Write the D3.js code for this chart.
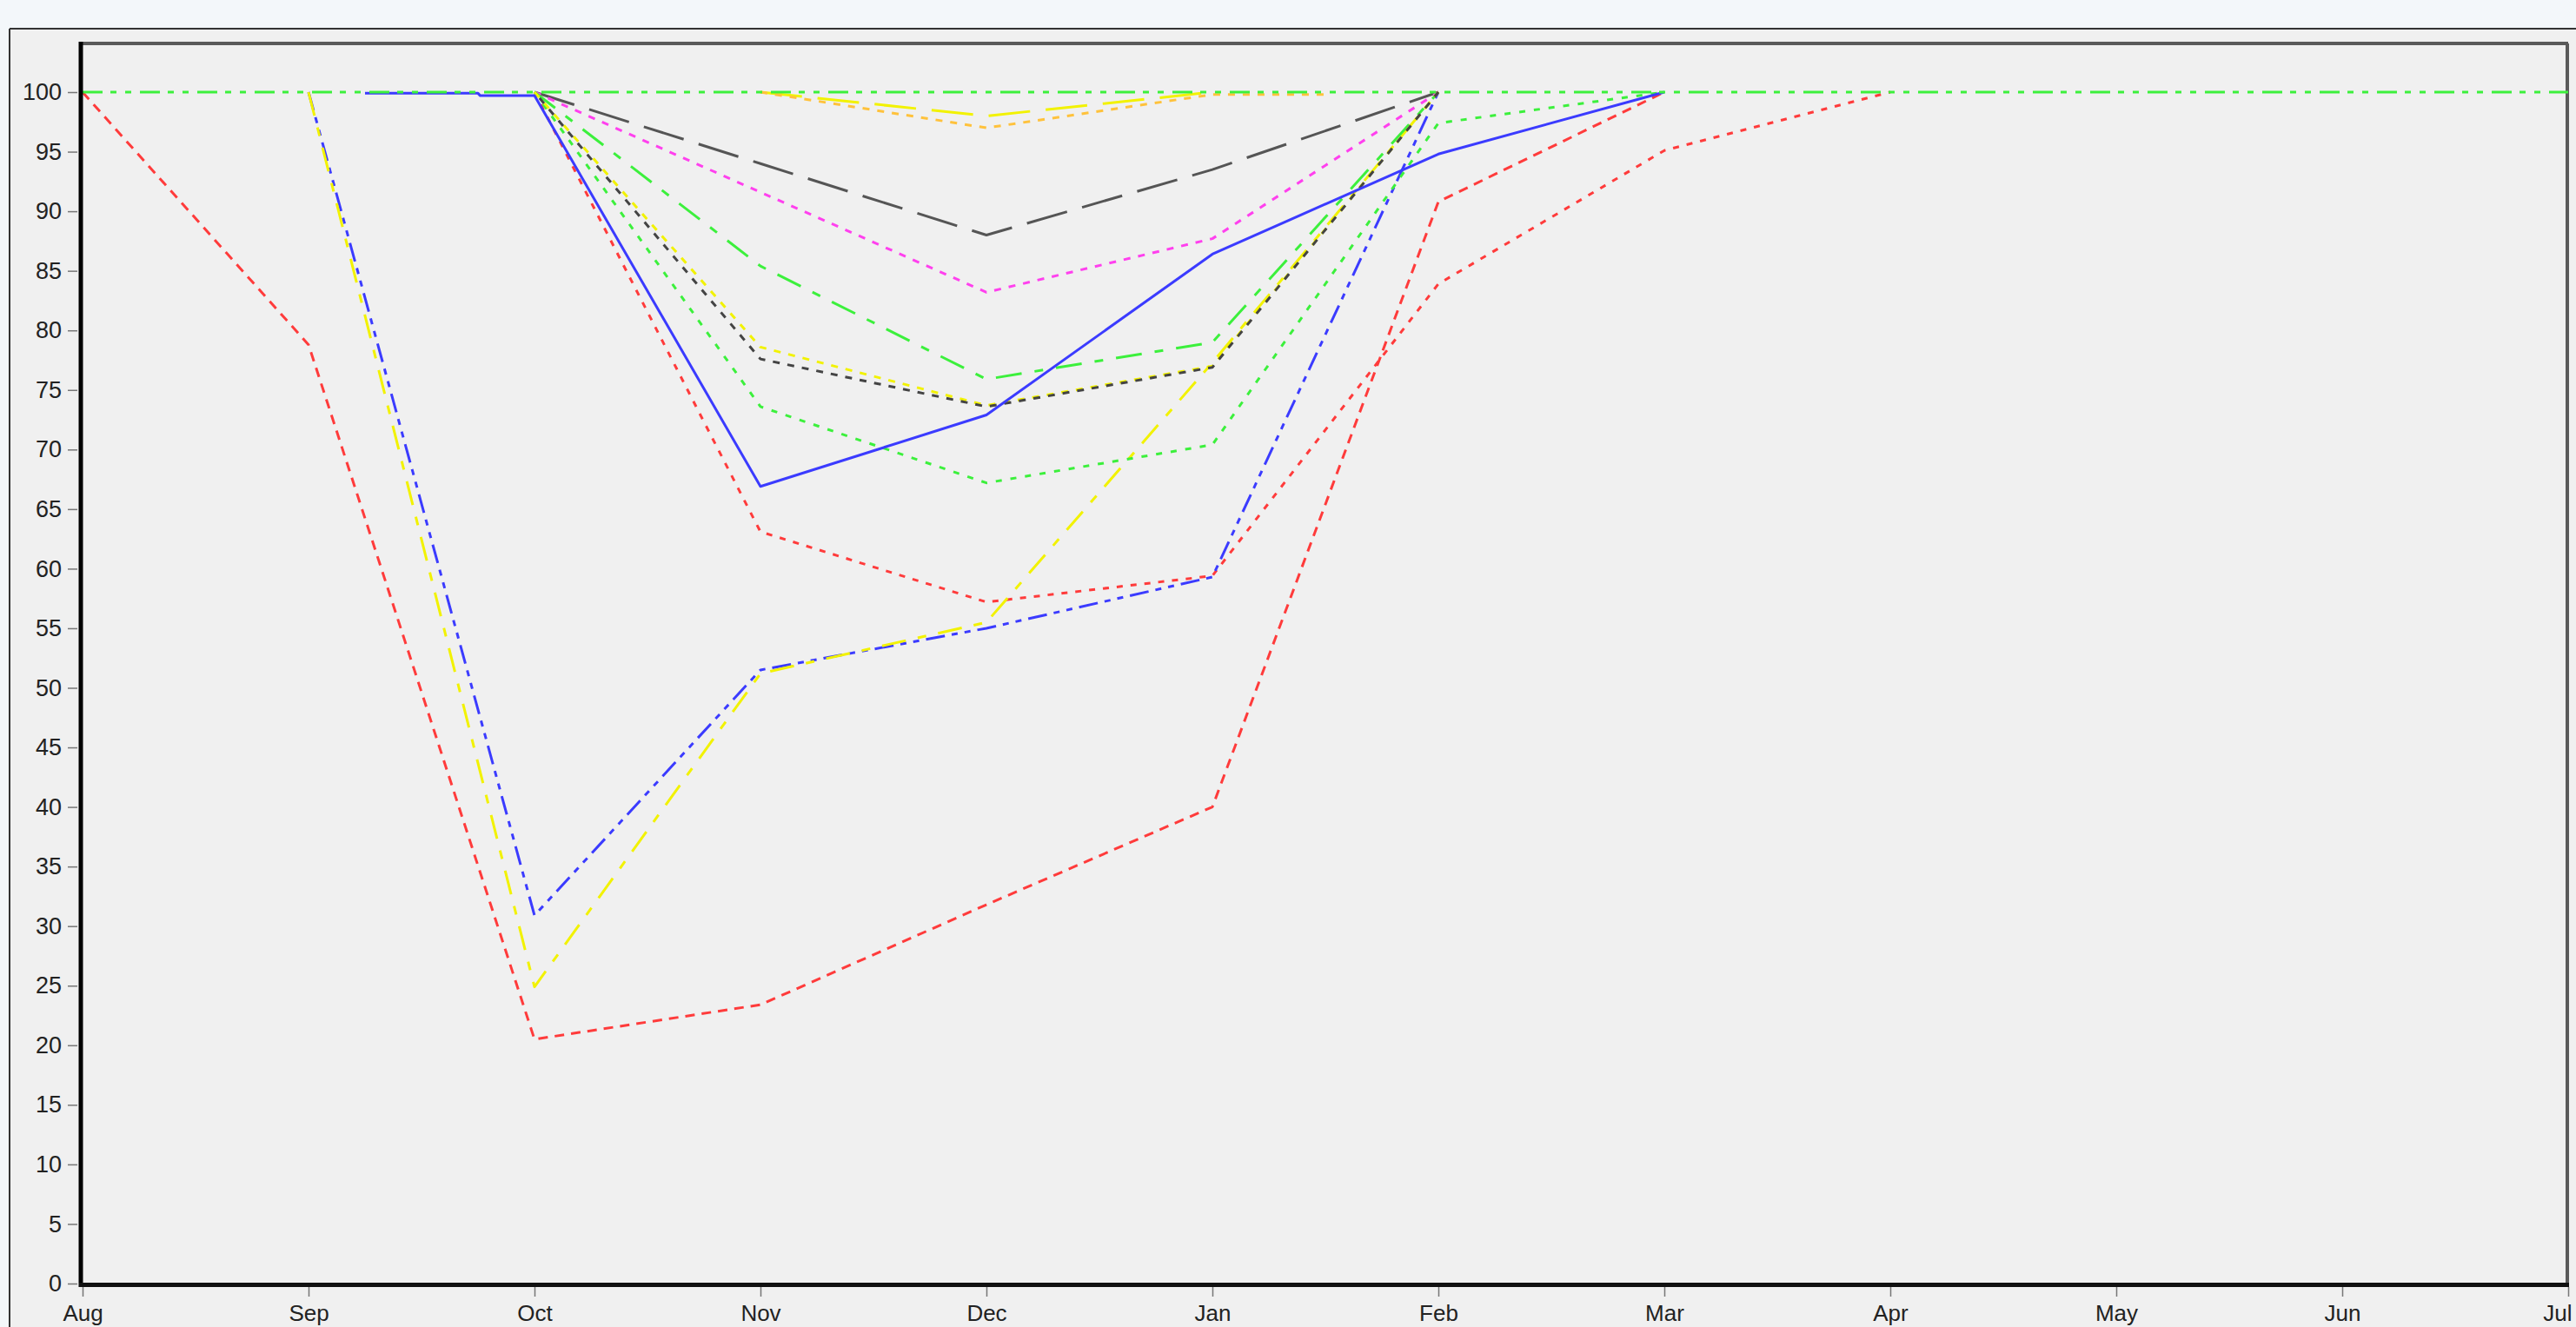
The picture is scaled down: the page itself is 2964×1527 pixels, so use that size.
<!DOCTYPE html>
<html>
<head>
<meta charset="utf-8">
<script src="https://cdn.jsdelivr.net/npm/d3@7"></script>
<style>
  html, body { margin: 0; padding: 0; background: #f3f7fa; overflow: hidden; }
  svg { display: block; }
  text { font-family: "Liberation Sans", Arial, sans-serif; }
</style>
</head>
<body>
<div id="chart"></div>
<script>
'use strict'

// month axis, Aug .. Jul
const months = ["Aug", "Sep", "Oct", "Nov", "Dec", "Jan", "Feb", "Mar", "Apr", "May", "Jun", "Jul"]
const yTicks = d3.range(0, 101, 5)

// each series: [month index, value]
const redLow      = [[0, 100], [1, 78.8], [2, 20.5], [3, 23.4], [4, 31.8], [5, 40.0], [6, 90.8], [7, 100]]
const redUpper    = [[2, 100], [3, 63.1], [4, 57.2], [5, 59.4], [6, 83.9], [7, 95.1], [8, 100]]
const blueDashDot = [[1, 100], [2, 30.9], [3, 51.5], [4, 55.0], [5, 59.3], [6, 100]]
const yellowLong  = [[1, 100], [2, 24.9], [3, 51.2], [4, 55.5], [5, 77.3], [6, 100]]
const greyLong    = [[2, 100], [3, 94.0], [4, 88.0], [5, 93.5], [6, 100]]
const magenta     = [[2, 100], [3, 91.6], [4, 83.2], [5, 87.7], [6, 100]]
const greenDash   = [[2, 100], [3, 85.4], [4, 75.9], [5, 79.0], [6, 100]]
const greenShort  = [[2, 100], [3, 73.6], [4, 67.2], [5, 70.4], [6, 97.4], [7, 100]]
const yellowDot   = [[2, 100], [3, 78.6], [4, 73.7], [5, 77.0], [6, 100]]
const blackDot    = [[2, 100], [3, 77.6], [4, 73.6], [5, 76.9], [6, 100]]
const yellowTop   = [[3, 100], [4, 98.0], [5, 100]]
const orange      = [[3, 100], [4, 97.0], [5, 99.8], [5.5, 99.8]]
const blueSolid   = [[1.25, 99.9], [1.75, 99.9], [1.76, 99.7], [2, 99.7], [3, 66.9], [4, 72.9], [5, 86.4], [6, 94.8], [7, 100]]
const green100    = [[0, 100], [11, 100]]

const series = [
	{data: redLow,      color: "#ff3b3b", dash: "11,8"},
	{data: redUpper,    color: "#ff3b3b", dash: "7,9"},
	{data: blueDashDot, color: "#3b3bff", dash: "22,8,7,8,7,8"},
	{data: yellowLong,  color: "#f2f200", dash: "28,14,10,14"},
	{data: greyLong,    color: "#555555", dash: "48,18"},
	{data: magenta,     color: "#ff40ee", dash: "8,9"},
	{data: greenDash,   color: "#3cf03c", dash: "30,15,10,15"},
	{data: greenShort,  color: "#3cf03c", dash: "7,10"},
	{data: yellowDot,   color: "#f2f200", dash: "8,9"},
	{data: blackDot,    color: "#444444", dash: "8,9", offset: 8},
	{data: yellowTop,   color: "#f2f200", dash: "48,18"},
	{data: orange,      color: "#ffc23c", dash: "8,9"},
	{data: blueSolid,   color: "#3b3bff", dash: null},
	{data: green100,    color: "#3cf03c", dash: "23,9,7,10,7,10"}
]

const width = 2964
const height = 1527

let svg = d3.select("#chart").append("svg").attr("width", width).attr("height", height)

// outer panel
svg.append("rect").attr("x", 11).attr("y", 33).attr("width", width).attr("height", height)
	.attr("fill", "#f0f0f0")
svg.append("line").attr("x1", 11).attr("x2", width).attr("y1", 33).attr("y2", 33)
	.attr("stroke", "#333").attr("stroke-width", 2)
svg.append("line").attr("x1", 11).attr("x2", 11).attr("y1", 33).attr("y2", height)
	.attr("stroke", "#333").attr("stroke-width", 2)

let xScale = d3.scaleLinear().domain([0, months.length - 1]).range([95, 2955])
let yScale = d3.scaleLinear().domain([0, 100]).range([1477, 106])

// plot frame (top, right)
svg.append("line").attr("x1", 93).attr("x2", 2955).attr("y1", 50).attr("y2", 50)
	.attr("stroke", "#5a5a5a").attr("stroke-width", 4)
svg.append("line").attr("x1", 2954).attr("x2", 2954).attr("y1", 50).attr("y2", 1479)
	.attr("stroke", "#5a5a5a").attr("stroke-width", 4)

// y axis
let yAxis = svg.append("g")
	.attr("transform", "translate(89,0)")
	.call(d3.axisLeft(yScale).tickValues(yTicks).tickSize(11).tickPadding(7).tickSizeOuter(0))
yAxis.select(".domain").remove()
yAxis.selectAll(".tick line").attr("stroke", "#777").attr("stroke-width", 1.5)
yAxis.selectAll(".tick text").attr("font-size", 27).attr("fill", "#222")
	.attr("font-family", "'Liberation Sans', Arial, sans-serif")

// x axis
let xAxis = svg.append("g")
	.attr("transform", "translate(0,1481)")
	.call(d3.axisBottom(xScale).tickValues(d3.range(months.length))
		.tickFormat(i => months[i]).tickSize(11).tickSizeOuter(0))
xAxis.select(".domain").remove()
xAxis.selectAll(".tick line").attr("stroke", "#777").attr("stroke-width", 1.5)
xAxis.selectAll(".tick text").attr("font-size", 26).attr("fill", "#222")
	.attr("font-family", "'Liberation Sans', Arial, sans-serif")
	.attr("y", 39).attr("dy", 0)
	.attr("text-anchor", (d, i) => i == months.length - 1 ? "end" : "middle")
	.attr("dx", (d, i) => i == months.length - 1 ? 4 : 0)

// series lines
let line = d3.line().x(d => xScale(d[0])).y(d => yScale(d[1]))

let lineg = svg.append("g")
lineg.selectAll(".series")
	.data(series)
	.enter()
	.append("path")
	.attr("class", "series")
	.attr("d", d => line(d.data))
	.attr("fill", "none")
	.attr("stroke", d => d.color)
	.attr("stroke-width", 3)
	.attr("stroke-linejoin", "round")
	.attr("stroke-dasharray", d => d.dash)
	.attr("stroke-dashoffset", d => d.offset || 0)

// thick axis lines
svg.append("line").attr("x1", 93).attr("x2", 93).attr("y1", 48).attr("y2", 1481)
	.attr("stroke", "#000").attr("stroke-width", 5)
svg.append("line").attr("x1", 91).attr("x2", 2956).attr("y1", 1478.5).attr("y2", 1478.5)
	.attr("stroke", "#111").attr("stroke-width", 5)
</script>
</body>
</html>
